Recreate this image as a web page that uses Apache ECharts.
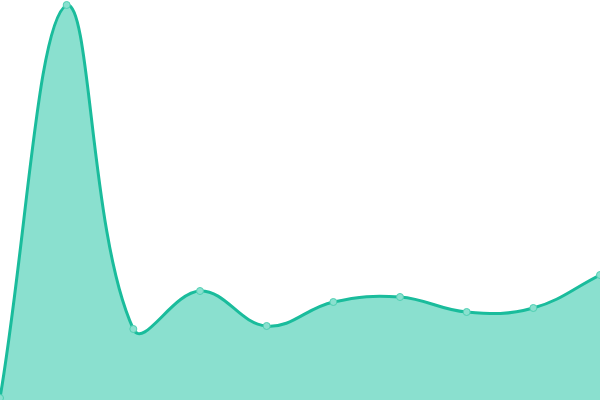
<!DOCTYPE html>
<html lang="en">
<head>
  <meta charset="utf-8">
  <title>Area</title>
  <script type="text/javascript" src="https://fastly.jsdelivr.net/npm/echarts@6/dist/echarts.min.js"></script>
  <style type="text/css">
    * {
      margin: 0;
      padding: 0;
    }
    html, body, #chart {
      width: 100%;
      height: 100%;
      overflow: hidden;
      background: #fff;
    }
  </style>
</head>
<body>
  <div id="chart"></div>
  <script type="text/javascript">
    var categories = ['1', '2', '3', '4', '5', '6', '7', '8', '9', '10'];
    var values = [2, 395, 71, 109, 74, 98, 103, 88, 92, 125];

    var lineColor = '#1abc9c';
    var fillColor = '#8ae0cf';
    var tension = 0.4;

    // spline through the points, control points from neighbours (tension style)
    function renderCurve(params, api) {
      if (params.dataIndex !== 0) return;
      var pts = values.map(function (v, i) { return api.coord([i, v]); });
      var w = params.coordSys.width, h = params.coordSys.height;
      var x0 = params.coordSys.x, y0 = params.coordSys.y;
      var cps = pts.map(function (p, i) {
        var prev = pts[i - 1] || p, next = pts[i + 1] || p;
        var d01 = Math.hypot(p[0] - prev[0], p[1] - prev[1]);
        var d12 = Math.hypot(next[0] - p[0], next[1] - p[1]);
        var s01 = d01 / (d01 + d12 || 1), s12 = d12 / (d01 + d12 || 1);
        var dx = next[0] - prev[0], dy = next[1] - prev[1];
        function cap(q) {
          return [Math.max(x0, Math.min(x0 + w, q[0])), Math.max(y0, Math.min(y0 + h, q[1]))];
        }
        return {
          before: cap([p[0] - tension * s01 * dx, p[1] - tension * s01 * dy]),
          after: cap([p[0] + tension * s12 * dx, p[1] + tension * s12 * dy])
        };
      });
      var d = 'M' + pts[0][0] + ' ' + pts[0][1];
      for (var i = 1; i < pts.length; i++) {
        var a = cps[i - 1].after, b = cps[i].before;
        d += ' C' + a[0] + ' ' + a[1] + ' ' + b[0] + ' ' + b[1] + ' ' + pts[i][0] + ' ' + pts[i][1];
      }
      var base = api.coord([0, 0])[1];
      var last = pts[pts.length - 1];
      var area = d + ' L' + last[0] + ' ' + base + ' L' + pts[0][0] + ' ' + base + ' Z';
      return {
        type: 'group',
        children: [
          { type: 'path', shape: { pathData: area }, style: { fill: fillColor } },
          { type: 'path', shape: { pathData: d }, style: { fill: null, stroke: lineColor, lineWidth: 3 } }
        ]
      };
    }

    var option = {
      animation: false,
      grid: { left: 0, right: 0, top: 0, bottom: 0 },
      xAxis: {
        type: 'category',
        boundaryGap: false,
        data: categories,
        show: false
      },
      yAxis: {
        type: 'value',
        min: 0,
        max: 400,
        show: false
      },
      series: [{
        type: 'custom',
        renderItem: renderCurve,
        data: values,
        silent: true
      }, {
        type: 'scatter',
        data: values,
        symbol: 'circle',
        symbolSize: 7,
        itemStyle: {
          color: '#8ae0cf',
          borderColor: '#4fcfb2',
          borderWidth: 1,
          opacity: 1
        },
        z: 5
      }]
    };
    var chart = echarts.init(document.getElementById('chart'));
    chart.setOption(option);
  </script>
</body>
</html>
